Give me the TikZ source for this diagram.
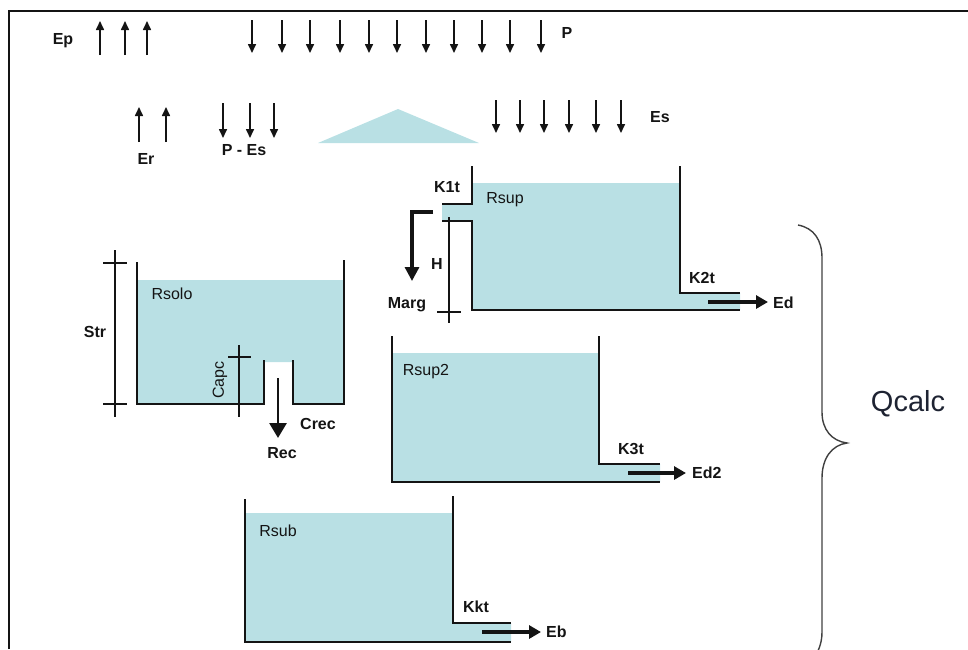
\documentclass[tikz,border=0pt]{standalone}
\usepackage{fontspec}
\setmainfont{Liberation Sans}
\usetikzlibrary{arrows.meta}
\definecolor{water}{RGB}{185,224,228}
\definecolor{ink}{RGB}{20,20,20}
\begin{document}
\begin{tikzpicture}[x=1pt,y=-1pt,
  wall/.style={line width=1.6pt, ink},
  flux/.style={line width=1.6pt, ink, -{Triangle[length=9pt,width=8pt]}},
  bigflux/.style={line width=3.2pt, ink, -{Triangle[length=12pt,width=13pt]}},
  measure/.style={line width=1.2pt, ink},
  lbl/.style={font=\fontsize{16}{18}\selectfont\bfseries, inner sep=0pt, text=ink},
  lbn/.style={font=\fontsize{16}{18}\selectfont, inner sep=0pt, text=ink}]
\useasboundingbox (0,0) rectangle (968,649);
% frame
\draw[line width=2pt, ink] (9,649) -- (9,11) -- (968,11);

% top fluxes
\node[lbl] (Ep) at (63,41) {Ep};
\foreach \x in {100,125,147} \draw[flux] (\x,55) -- (\x,21);
\foreach \x in {252,282,310,340,369,397,426,454,482,510,541} \draw[flux] (\x,20) -- (\x,53);
\node[lbl] (P) at (567,33) {P};

\foreach \x in {139,166} \draw[flux] (\x,142) -- (\x,107);
\node[lbl] (Er) at (146,159) {Er};
\foreach \x in {223,250,274} \draw[flux] (\x,103) -- (\x,138);
\node[lbl] (PEs) at (244,150) {P - Es};

\fill[water] (318,143) -- (398,109) -- (479,143) -- cycle;

\foreach \x in {496,520,544,569,596,621} \draw[flux] (\x,100) -- (\x,133);
\node[lbl] (Es) at (660,117) {Es};

% Rsup
\fill[water] (472,183) -- (680,183) -- (680,293) -- (740,293) -- (740,310) -- (472,310) -- (472,221) -- (442,221) -- (442,204) -- (472,204) -- cycle;
\draw[wall] (472,166) -- (472,204) -- (442,204);
\draw[wall] (442,221) -- (472,221) -- (472,310) -- (740,310);
\draw[wall] (680,166) -- (680,293) -- (740,293);
\node[lbn] (Rsup) at (505,200) {Rsup};
\node[lbl] (K1t) at (447,187) {K1t};
\node[lbl] (K2t) at (702,278) {K2t};
\coordinate (edA) at (708,302);
\coordinate (edB) at (768,302);
\draw[bigflux] (edA) -- (edB);
\node[lbl, anchor=west] (Ed) at (773,303) {Ed};
\coordinate (mA) at (433,212);
\coordinate (mB) at (412,281);
\draw[line width=3.2pt, ink, -{Triangle[length=14pt,width=14pt]}] (mA) -| (mB);
\node[lbl] (H) at (437,264) {H};
\node[lbl] (Marg) at (407,305) {Marg};
\draw[measure] (449,217) -- (449,323);
\draw[measure] (437,312) -- (461,312);

% Rsolo
\fill[water] (137,280) -- (344,280) -- (344,404) -- (293,404) -- (293,362) -- (264,362) -- (264,404) -- (137,404) -- cycle;
\draw[wall] (137,262) -- (137,404) -- (264,404) -- (264,360);
\draw[wall] (293,360) -- (293,404) -- (344,404) -- (344,260);
\node[lbn] (Rsolo) at (172,294) {Rsolo};
\draw[measure] (115,250) -- (115,417);
\draw[measure] (103,263) -- (127,263);
\draw[measure] (103,404) -- (127,404);
\node[lbl] (Str) at (95,332) {Str};
\draw[measure] (239,345) -- (239,417);
\draw[measure] (228,357) -- (251,357);
\node[lbn, rotate=90] (Capc) at (220,380) {Capc};
\coordinate (rA) at (278,378);
\coordinate (rB) at (278,438);
\draw[line width=2.8pt, ink, -{Triangle[length=15pt,width=17pt]}] (rA) -- (rB);
\node[lbl] (Crec) at (318,424) {Crec};
\node[lbl] (Rec) at (282,453) {Rec};

% Rsup2
\fill[water] (392,353) -- (599,353) -- (599,464) -- (660,464) -- (660,482) -- (392,482) -- cycle;
\draw[wall] (392,336) -- (392,482) -- (660,482);
\draw[wall] (599,336) -- (599,464) -- (660,464);
\node[lbn] (Rsup2) at (426,372) {Rsup2};
\node[lbl] (K3t) at (631,449) {K3t};
\coordinate (e2A) at (628,473);
\coordinate (e2B) at (686,473);
\draw[bigflux] (e2A) -- (e2B);
\node[lbl, anchor=west] (Ed2) at (692,473) {Ed2};

% Rsub
\fill[water] (245,513) -- (453,513) -- (453,623) -- (511,623) -- (511,642) -- (245,642) -- cycle;
\draw[wall] (245,499) -- (245,642) -- (511,642);
\draw[wall] (453,496) -- (453,623) -- (511,623);
\node[lbn] (Rsub) at (278,531) {Rsub};
\node[lbl] (Kkt) at (476,607) {Kkt};
\coordinate (ebA) at (482,632);
\coordinate (ebB) at (541,632);
\draw[bigflux] (ebA) -- (ebB);
\node[lbl, anchor=west] (Eb) at (546,632) {Eb};

% brace
\draw[line width=1.4pt, black!75] (798,225) .. controls (814,228) and (822,240) .. (822,258) -- (822,412)
  .. controls (822,430) and (832,441) .. (847,443)
  .. controls (832,445) and (822,458) .. (822,478) -- (822,632)
  .. controls (822,644) and (818,652) .. (812,662);
\node[font=\fontsize{29}{32}\selectfont, inner sep=0pt, text={rgb,255:red,30;green,35;blue,50}] (Qcalc) at (908,404) {Qcalc};
\end{tikzpicture}
\end{document}
